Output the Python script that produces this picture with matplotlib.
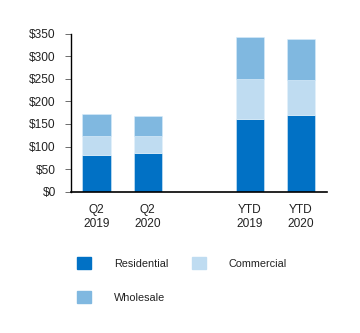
import numpy as np
import matplotlib.pyplot as plt
from matplotlib.patches import Patch

plt.rcParams['font.family'] = ['Liberation Sans', 'DejaVu Sans']

# revenue by customer class ($ millions)
periods = ["Q2\n2019", "Q2\n2020", "YTD\n2019", "YTD\n2020"]
residential = [81, 85, 162, 170]
commercial = [42, 38, 87, 77]
wholesale = [49, 45, 94, 91]
y_ticks = [0, 50, 100, 150, 200, 250, 300, 350]

c_res = '#0171c5'
c_com = '#bfdcf1'
c_whl = '#80b8e0'
txt = '#222222'

x = np.array([0, 1, 3, 4])
res = np.array(residential)
com = np.array(commercial)
whl = np.array(wholesale)

fig = plt.figure(figsize=(3.6, 3.33), dpi=100)
ax = fig.add_axes([0.197, 0.4243, 0.7105, 0.4747])

w = 0.55
ax.bar(x, res, w, color=c_res, edgecolor='#d8ecfa', linewidth=0.4)
ax.bar(x, com, w, bottom=res, color=c_com, edgecolor='#e4f2fb', linewidth=0.4)
ax.bar(x, whl, w, bottom=res + com, color=c_whl, edgecolor='#d8ecfa', linewidth=0.4)

ax.set_xlim(-0.5, 4.5)
ax.set_ylim(0, 350)
ax.set_yticks(y_ticks)
ax.set_yticklabels(["$%d" % v for v in y_ticks], fontsize=8.6, color=txt)
ax.set_xticks(x)
ax.set_xticklabels(periods, fontsize=8.6, linespacing=1.2, color=txt)
ax.tick_params(axis='x', length=0, pad=9)
ax.tick_params(axis='y', length=4, width=0.6, color='#555555', pad=7)
for s in ['top', 'right']:
    ax.spines[s].set_visible(False)
ax.spines['left'].set_linewidth(1.0)
ax.spines['bottom'].set_linewidth(1.2)

# order so that the two-column legend reads Residential, Commercial / Wholesale
handles = [Patch(color=c_res), Patch(color=c_whl), Patch(color=c_com)]
fig.legend(handles, ["Residential", "Wholesale", "Commercial"],
           loc='upper left', bbox_to_anchor=(77 / 360, 1 - 257 / 333),
           ncol=2, frameon=False, fontsize=7.8, borderpad=0, borderaxespad=0,
           handlelength=1.3, handleheight=1.3, handletextpad=2.1,
           columnspacing=2.2, labelspacing=2.05, labelcolor=txt)

fig.savefig('out.png', dpi=100)
